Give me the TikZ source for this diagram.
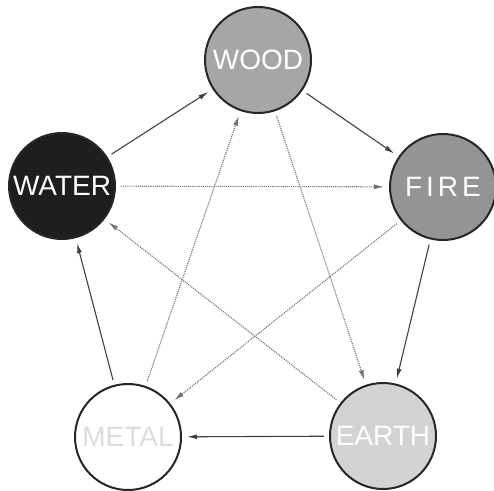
\documentclass[tikz,border=0pt]{standalone}
\usepackage{fontspec}
\setmainfont{Liberation Sans}
\usetikzlibrary{arrows.meta}

\definecolor{woodgray}{HTML}{A6A6A6}
\definecolor{firegray}{HTML}{949494}
\definecolor{watergray}{HTML}{1E1E1E}
\definecolor{earthgray}{HTML}{D3D3D3}
\definecolor{metaltext}{HTML}{DDDDDD}

\begin{document}
\begin{tikzpicture}[x=1pt,y=-1pt,
    element/.style={circle, draw=black!85, line width=2pt, minimum size=106pt,
        inner sep=0pt, font=\fontsize{28}{28}\selectfont, text=white},
    generate/.style={draw=black!75, line width=1.1pt,
        -{Latex[length=10pt,width=5pt]}, shorten >=5pt, shorten <=5pt},
    control/.style={draw=black!55, line width=1.1pt, densely dotted,
        -{Latex[length=10pt,width=5pt]}, shorten >=5pt, shorten <=5pt}]

    % Fix the page to the size of the reference
    \useasboundingbox (0,0) rectangle (494,490);

    % Place the five elements round the pentagon
    \node[element, fill=woodgray] (wood) at (258,60) {WOOD};
    \node[element, fill=firegray] (fire) at (443,187)
        {\addfontfeature{LetterSpace=14}FIRE};
    \node[element, fill=earthgray] (earth) at (383,436) {EARTH};
    \node[element, fill=white, text=metaltext] (metal) at (128,437) {METAL};
    \node[element, fill=watergray] (water) at (62,186) {WATER};

    % Outer cycle: each element feeds the next one
    \draw[generate] (wood) -- (fire);
    \draw[generate] (fire) -- (earth);
    \draw[generate] (earth) -- (metal);
    \draw[generate] (metal) -- (water);
    \draw[generate] (water) -- (wood);

    % Inner star: each element holds back the one after next
    \draw[control] (water) -- (fire);
    \draw[control] (fire) -- (metal);
    \draw[control] (metal) -- (wood);
    \draw[control] (wood) -- (earth);
    \draw[control] (earth) -- (water);

\end{tikzpicture}
\end{document}
